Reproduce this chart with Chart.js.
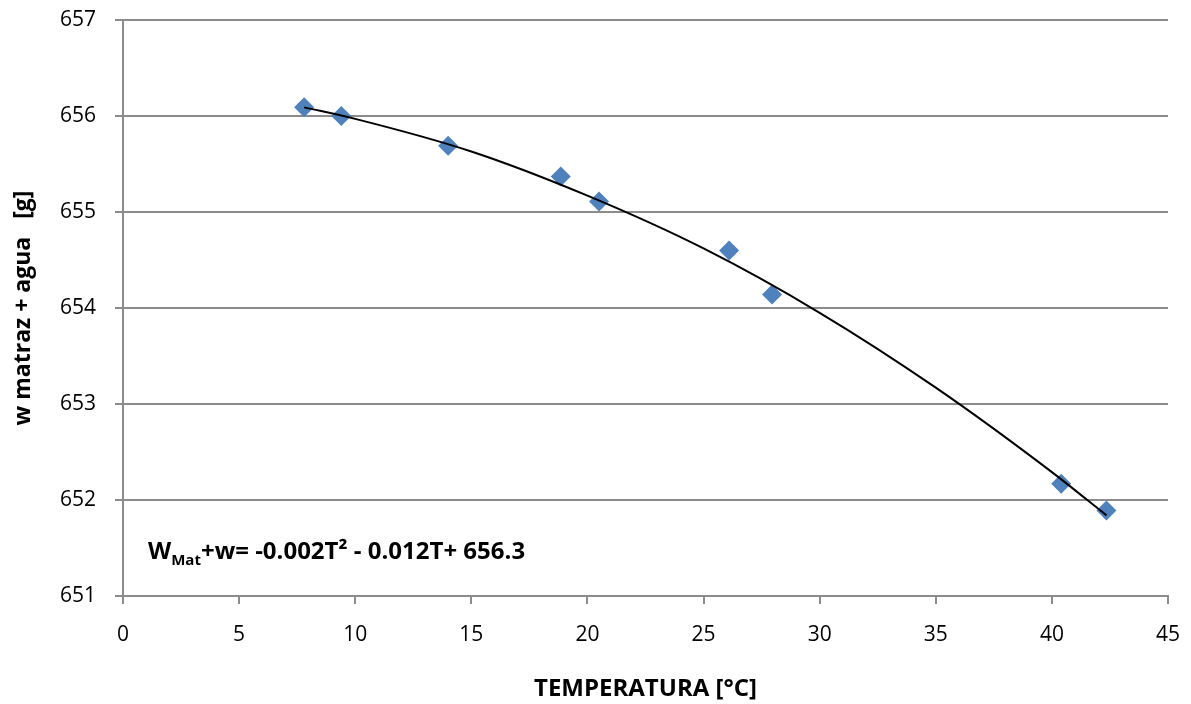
<!DOCTYPE html>
<html>
<head>
<meta charset="utf-8">
<script src="https://cdn.jsdelivr.net/npm/chart.js@4/dist/chart.umd.min.js"></script>
<style>
  html, body { margin: 0; padding: 0; background: #fff; }
  #wrap { width: 1191px; height: 704px; }
</style>
</head>
<body>
<div id="wrap"><canvas id="chart"></canvas></div>
<script>
// measured points: temperature [°C] and flask + water weight [g]
const temps = [7.8, 9.4, 14.0, 18.85, 20.5, 26.1, 27.95, 40.4, 42.35];
const weights = [656.09, 656.00, 655.69, 655.37, 655.11, 654.60, 654.14, 652.17, 651.89];

// trendline
const trendT = [7.8, 10, 15, 20, 25, 30, 35, 40, 42.35];
const trendW = [656.09, 655.97, 655.63, 655.17, 654.62, 653.95, 653.17, 652.29, 651.84];

const xTicks = [0, 5, 10, 15, 20, 25, 30, 35, 40, 45];
const yTicks = [651, 652, 653, 654, 655, 656, 657];

const FONT = '"Open Sans", "Noto Sans", sans-serif';

const equationLabel = {
  id: 'equationLabel',
  afterDatasetsDraw(chart) {
    const ctx = chart.ctx;
    const area = chart.chartArea;
    let x = area.left + 25;
    const y = area.bottom - 37;
    ctx.save();
    ctx.fillStyle = '#000';
    ctx.textBaseline = 'alphabetic';
    ctx.font = 'bold 24px ' + FONT;
    ctx.fillText('W', x, y);
    x += ctx.measureText('W').width;
    ctx.font = 'bold 15px ' + FONT;
    ctx.fillText('Mat', x, y + 6);
    x += ctx.measureText('Mat').width;
    ctx.font = 'bold 24px ' + FONT;
    ctx.fillText('+w= -0.002T\u00b2 - 0.012T+ 656.3', x, y);
    ctx.restore();
  }
};

new Chart(document.getElementById('chart'), {
  type: 'scatter',
  data: {
    datasets: [
      {
        label: 'datos',
        data: temps.map((t, i) => ({ x: t, y: weights[i] })),
        pointStyle: 'rectRot',
        pointRadius: 10,
        pointHoverRadius: 10,
        backgroundColor: '#4F81BD',
        borderColor: '#4F81BD',
        borderWidth: 0,
        order: 2
      },
      {
        label: 'tendencia',
        type: 'line',
        data: trendT.map((t, i) => ({ x: t, y: trendW[i] })),
        borderColor: '#000',
        borderWidth: 2,
        pointRadius: 0,
        fill: false,
        cubicInterpolationMode: 'monotone',
        order: 1
      }
    ]
  },
  options: {
    responsive: true,
    maintainAspectRatio: false,
    animation: false,
    layout: { padding: { top: 20, right: 23, left: 0, bottom: 0 } },
    plugins: {
      legend: { display: false },
      tooltip: { enabled: false }
    },
    scales: {
      x: {
        type: 'linear',
        min: 0,
        max: 45,
        afterBuildTicks: s => { s.ticks = xTicks.map(v => ({ value: v })); },
        afterFit: s => {
          s.height = 108;
          s.paddingLeft = 0;
          s.paddingRight = 0;
        },
        grid: {
          drawOnChartArea: false,
          drawTicks: true,
          tickLength: 8,
          color: '#8c8c8c',
          lineWidth: 2
        },
        border: { color: '#8c8c8c', width: 2 },
        ticks: {
          color: '#000',
          font: { family: FONT, size: 21 },
          padding: 18,
          maxRotation: 0
        },
        title: {
          display: true,
          text: 'TEMPERATURA [°C]',
          color: '#000',
          font: { family: FONT, size: 24, weight: 'bold' },
          padding: { top: 10, bottom: 0 }
        }
      },
      y: {
        type: 'linear',
        min: 651,
        max: 657,
        afterBuildTicks: s => { s.ticks = yTicks.map(v => ({ value: v })); },
        afterFit: s => {
          s.width = 123;
          s.paddingTop = 0;
          s.paddingBottom = 0;
        },
        grid: {
          color: '#8c8c8c',
          lineWidth: 2,
          tickLength: 8
        },
        border: { color: '#8c8c8c', width: 2 },
        ticks: {
          color: '#000',
          font: { family: FONT, size: 21 },
          padding: 19
        },
        title: {
          display: true,
          text: 'w matraz + agua   [g]',
          color: '#000',
          font: { family: FONT, size: 23, weight: 'bold' },
          padding: { top: 10, bottom: 12 }
        }
      }
    }
  },
  plugins: [equationLabel]
});
</script>
</body>
</html>
